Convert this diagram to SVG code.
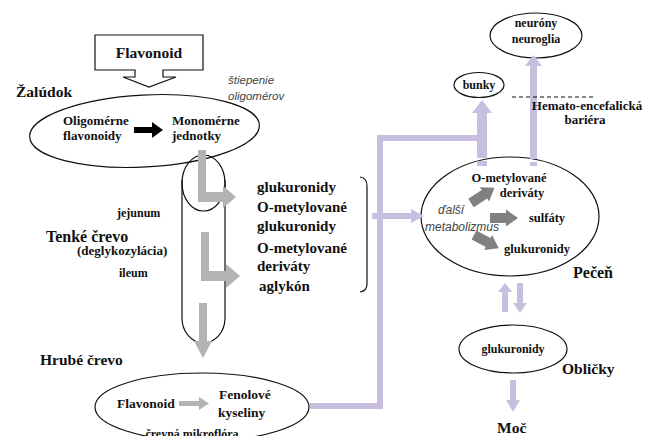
<svg xmlns="http://www.w3.org/2000/svg" width="645" height="436" viewBox="0 0 645 436">
<style>
.t{font-family:"Liberation Serif","Times New Roman",serif;font-weight:bold;fill:#111}
.i{font-family:"Liberation Sans",Arial,sans-serif;font-style:italic;fill:#444}
.o{fill:#fff;stroke:#111;stroke-width:1.2}
.n{fill:none;stroke:#111;stroke-width:1.2}
.lg{fill:#b3b3b3}
.dg{fill:#808080}
.pu{fill:#c8bedf}
</style>
<defs>
<path id="darr" d="M0,-5 H16 V-8.5 L28,0 L16,8.5 V5 H0 Z"/>
</defs>
<rect width="645" height="436" fill="#fff"/>

<g id="flavonoid-top">
<path class="o" d="M95,35 H203 V70 H163 V77 H176 L149,87 L123,77 H135 V70 H95 Z"/>
<text class="t" x="149" y="58" font-size="15.5" text-anchor="middle">Flavonoid</text>
</g>

<g id="zaludok">
<text class="t" x="16" y="97" font-size="15.5">Žalúdok</text>
<text class="i" x="228" y="84" font-size="11.5">štiepenie</text>
<text class="i" x="228" y="100" font-size="11.5">oligomérov</text>
<ellipse class="o" cx="144.5" cy="131" rx="115" ry="36" transform="rotate(-3 144.5 131)"/>
<text class="t" x="63" y="125" font-size="13">Oligomérne</text>
<text class="t" x="63" y="140" font-size="13">flavonoidy</text>
<text class="t" x="172" y="125" font-size="13">Monomérne</text>
<text class="t" x="172" y="140" font-size="13">jednotky</text>
</g>

<g id="tenke-crevo">
<ellipse class="n" cx="203.5" cy="183" rx="21.5" ry="28"/>
<path class="n" d="M182,180 V318 A21.5,25 0 0 0 225,318 V180"/>
<text class="t" x="117" y="217" font-size="12">jejunum</text>
<text class="t" x="46" y="242" font-size="16">Tenké črevo</text>
<text class="t" x="77" y="255" font-size="13">(deglykozylácia)</text>
<text class="t" x="119" y="277" font-size="12">ileum</text>
</g>

<g id="produkty">
<text class="t" x="257" y="192" font-size="15">glukuronidy</text>
<text class="t" x="257" y="212" font-size="15">O-metylované</text>
<text class="t" x="257" y="231" font-size="15">glukuronidy</text>
<text class="t" x="257" y="253" font-size="15">O-metylované</text>
<text class="t" x="257" y="271" font-size="15">deriváty</text>
<text class="t" x="259" y="291" font-size="15">aglykón</text>
<path class="n" d="M360,177 Q367,178 367,186 V284 Q367,291 360,292"/>
</g>

<g id="hrube-crevo">
<text class="t" x="40" y="365" font-size="15.5">Hrubé črevo</text>
<ellipse class="o" cx="202" cy="407" rx="107" ry="34"/>
<text class="t" x="117" y="408" font-size="13.5">Flavonoid</text>
<text class="t" x="219" y="399" font-size="13.5">Fenolové</text>
<text class="t" x="218" y="417" font-size="13.5">kyseliny</text>
<text class="t" x="192" y="438" font-size="12" text-anchor="middle">črevná mikroflóra</text>
</g>

<g id="pecen">
<ellipse class="o" cx="510" cy="216.5" rx="89" ry="59.5"/>
<text class="t" x="509" y="182" font-size="12.5" text-anchor="middle">O-metylované</text>
<text class="t" x="522" y="197" font-size="12.5" text-anchor="middle">deriváty</text>
<text class="t" x="547" y="222" font-size="12.5" text-anchor="middle">sulfáty</text>
<text class="t" x="537" y="253" font-size="12.5" text-anchor="middle">glukuronidy</text>
<text class="i" x="438" y="214" font-size="12">ďalší</text>
<text class="i" x="425" y="231" font-size="12">metabolizmus</text>
<text class="t" x="573" y="278" font-size="16">Pečeň</text>
</g>

<g id="neurony">
<ellipse class="o" cx="536" cy="35.5" rx="46" ry="22.5"/>
<text class="t" x="536" y="27" font-size="12" text-anchor="middle">neuróny</text>
<text class="t" x="536" y="43" font-size="12" text-anchor="middle">neuroglia</text>
</g>

<g id="bunky">
<ellipse class="o" cx="479" cy="85" rx="25" ry="12.5"/>
<text class="t" x="479" y="89" font-size="12" text-anchor="middle">bunky</text>
</g>

<g id="oblicky">
<ellipse class="o" cx="513" cy="349" rx="54" ry="24"/>
<text class="t" x="513" y="353" font-size="12" text-anchor="middle">glukuronidy</text>
<text class="t" x="562" y="374" font-size="15.5">Obličky</text>
</g>

<g id="moc">
<text class="t" x="497" y="433" font-size="15.5">Moč</text>
</g>

<g id="connectors">
<polygon class="lg" points="198,150 206,150 206,192 223,192 223,186 236,197 223,208 223,202 198,202"/>
<polygon class="lg" points="201,232 209,232 209,271 226,271 226,264 240,276 226,288 226,281 201,281"/>
<polygon class="lg" points="199,303 207,303 207,341 212,341 203,358 194,341 199,341"/>
<polygon fill="#000" points="134,127 152,127 152,122 163,130 152,138 152,133 134,133"/>
<polygon class="lg" points="179,401 199,401 199,397 209,403.5 199,410 199,406 179,406"/>

<rect class="pu" x="310" y="403" width="73" height="6"/>
<rect class="pu" x="377" y="135" width="6" height="274"/>
<rect class="pu" x="377" y="135" width="110" height="6"/>
<polygon class="pu" points="477,113 472,113 482,100 492,113 487,113 487,158 477,158"/>
<rect class="pu" x="477" y="161" width="10" height="5"/>
<polygon class="pu" points="530,66 525,66 533.5,55 542,66 537,66 537,159 530,159"/>
<rect class="pu" x="530" y="162" width="7" height="4"/>
<polygon class="pu" points="372,213 411,213 411,209 424,216 411,223 411,219 372,219"/>
<polygon class="pu" points="505,283 512,292 508,292 508,312 502,312 502,292 498,292"/>
<polygon class="pu" points="517,283 523,283 523,303 527,303 520,313 513,303 517,303"/>
<polygon class="pu" points="510,380 516,380 516,400 520,400 513,412 506,400 510,400"/>

<use href="#darr" class="dg" transform="translate(471,203) rotate(-33)"/>
<use href="#darr" class="dg" transform="translate(490,218)"/>
<use href="#darr" class="dg" transform="translate(474,235) rotate(28)"/>
</g>

<g id="bariera">
<line x1="512" y1="97" x2="594" y2="97" stroke="#111" stroke-width="1.2" stroke-dasharray="4,3"/>
<text class="t" x="587" y="110" font-size="13" text-anchor="middle">Hemato-encefalická</text>
<text class="t" x="585" y="124" font-size="13" text-anchor="middle">bariéra</text>
</g>
</svg>
